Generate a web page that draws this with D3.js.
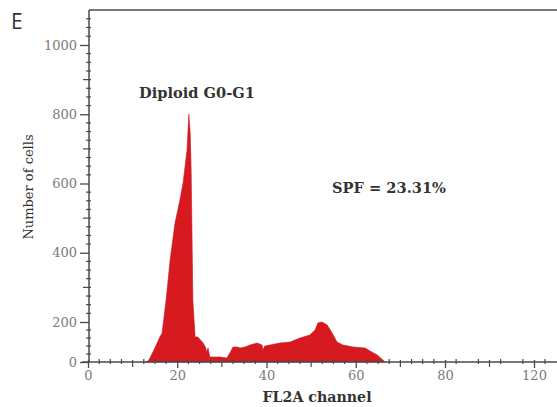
<!DOCTYPE html>
<html>
<head>
<meta charset="utf-8">
<script src="https://cdn.jsdelivr.net/npm/d3@7"></script>
<style>
  html, body { margin: 0; padding: 0; background: #fff; }
  svg { display: block; }
</style>
</head>
<body>
<svg id="chart" width="557" height="407"></svg>
<script>
// ---- data ----
const channel = [12.8, 13.5, 14.0, 15.0, 16.0, 16.6, 17.5, 18.4, 19.5, 20.6, 21.3, 22.2, 22.6, 22.9, 23.1, 23.3, 23.5, 24.0,
  24.6, 25.8, 26.3, 26.6, 26.9, 27.3, 28.0, 29.6, 31.1, 31.8, 32.5, 33.4, 34.1, 35.2, 36.3, 37.9, 39.0, 39.2, 39.6,
  40.8, 43.0, 45.3, 47.5, 49.7, 50.9, 51.5, 52.4, 53.6, 54.7, 55.8, 57.1, 59.4, 62.1, 63.6, 64.8, 66.1, 66.6];
const cells = [0, 5, 25, 70, 120, 145, 263, 379, 486, 552, 601, 697, 800, 746, 648, 457, 263, 125,
  125, 95, 75, 50, 70, 25, 25, 25, 20, 45, 75, 75, 70, 75, 85, 95, 85, 60, 80,
  85, 95, 100, 120, 135, 160, 195, 200, 185, 145, 100, 85, 75, 70, 50, 35, 10, 0];
const xTickValues = [0, 20, 40, 60, 80, 120];
const xTickLabels = ["0", "20", "40", "60", "80", "120"];
const yTickValues = [0, 200, 400, 600, 800, 1000];
const yTickLabels = ["0", "200", "400", "600", "800", "1000"];
const panelLabel = "E";
const peakLabel = "Diploid G0-G1";
const spfLabel = "SPF = 23.31%";
const xTitle = "FL2A channel";
const yTitle = "Number of cells";

// ---- layout ----
const svg = d3.select("#chart");
const axisColor = "#4a4a4a";
const tickColor = "#7a7a7a";
const red = "#d71920";
const serif = "'DejaVu Serif', 'Liberation Serif', serif";

// piecewise scales reproduce the reference axis spacing
const x = d3.scaleLinear().domain([0, 80, 120, 130]).range([88, 445, 534, 556]);
const y = d3.scaleLinear().domain([0, 200, 1000, 1100]).range([362, 322, 45, 10]);

// ---- area ----
const data = channel.map((c, i) => ({ c, n: cells[i] }));
const area = d3.area().x(d => x(d.c)).y0(y(0)).y1(d => y(d.n)).curve(d3.curveLinear);
svg.append("path").datum(data).attr("d", area).attr("fill", red).attr("stroke", "#c8141b").attr("stroke-width", 0.6);

// ---- frame lines ----
svg.append("line").attr("x1", 89).attr("x2", 557).attr("y1", 10).attr("y2", 10)
  .attr("stroke", axisColor).attr("stroke-width", 1.5);

// ---- y axis ----
const yMinor = d3.range(225, 1100, 25).filter(v => v % 100 !== 0).concat([40, 80, 120, 160]);
const yMedium = d3.range(300, 1100, 200);
const gy = svg.append("g").attr("transform", "translate(89,0)");
gy.append("line").attr("x1", 0).attr("x2", 0).attr("y1", 10).attr("y2", 363)
  .attr("stroke", axisColor).attr("stroke-width", 1.5);
gy.selectAll("line.minor").data(yMinor).join("line").attr("class", "minor")
  .attr("x1", -3).attr("x2", 2).attr("y1", d => y(d)).attr("y2", d => y(d))
  .attr("stroke", axisColor).attr("stroke-width", 1.2);
gy.selectAll("line.medium").data(yMedium).join("line").attr("class", "medium")
  .attr("x1", -6).attr("x2", 2).attr("y1", d => y(d)).attr("y2", d => y(d))
  .attr("stroke", axisColor).attr("stroke-width", 1.2);
const yAxis = d3.axisLeft(y).tickValues(yTickValues).tickFormat((d, i) => yTickLabels[i])
  .tickSizeInner(9).tickSizeOuter(0).tickPadding(3);
const gya = gy.append("g").call(yAxis);
gya.select(".domain").remove();
gya.selectAll(".tick line").attr("stroke", axisColor).attr("stroke-width", 1.3);
gya.selectAll(".tick text").attr("fill", tickColor).style("font-family", serif).style("font-size", "13px");

// ---- x axis ----
const xMinor = d3.range(2.5, 80, 2.5).filter(v => v % 10 !== 0).concat([85, 95, 105, 115, 125]);
const xMedium = [10, 30, 50, 70, 100];
const gx = svg.append("g").attr("transform", "translate(0,362)");
gx.append("line").attr("x1", 82).attr("x2", 557).attr("y1", 0).attr("y2", 0)
  .attr("stroke", axisColor).attr("stroke-width", 1.5);
gx.selectAll("line.minor").data(xMinor).join("line").attr("class", "minor")
  .attr("x1", d => x(d)).attr("x2", d => x(d)).attr("y1", -3).attr("y2", 2)
  .attr("stroke", axisColor).attr("stroke-width", 1.2);
gx.selectAll("line.medium").data(xMedium).join("line").attr("class", "medium")
  .attr("x1", d => x(d)).attr("x2", d => x(d)).attr("y1", -2).attr("y2", 5)
  .attr("stroke", axisColor).attr("stroke-width", 1.2);
const xAxis = d3.axisBottom(x).tickValues(xTickValues).tickFormat((d, i) => xTickLabels[i])
  .tickSizeInner(6).tickSizeOuter(0).tickPadding(3);
const gxa = gx.append("g").call(xAxis);
gxa.select(".domain").remove();
gxa.selectAll(".tick line").attr("stroke", axisColor).attr("stroke-width", 1.3).attr("y1", -2);
gxa.selectAll(".tick text").attr("fill", tickColor).style("font-family", serif).style("font-size", "13px");

// ---- texts ----
svg.append("text").attr("x", 11).attr("y", 29).text(panelLabel)
  .style("font-family", "'Open Sans', 'DejaVu Sans', sans-serif").style("font-size", "21px").attr("fill", "#333");
svg.append("text").attr("x", 197).attr("y", 98).attr("text-anchor", "middle").text(peakLabel)
  .style("font-family", serif).style("font-size", "14.6px").style("font-weight", "bold").attr("fill", "#333");
svg.append("text").attr("x", 389).attr("y", 193).attr("text-anchor", "middle").text(spfLabel)
  .style("font-family", serif).style("font-size", "14.6px").style("font-weight", "bold").attr("fill", "#333");
svg.append("text").attr("x", 317).attr("y", 402).attr("text-anchor", "middle").text(xTitle)
  .style("font-family", serif).style("font-size", "14.2px").style("font-weight", "bold").attr("fill", "#333");
svg.append("text").attr("transform", "translate(33,187) rotate(-90)").attr("text-anchor", "middle").text(yTitle)
  .style("font-family", serif).style("font-size", "13px").attr("fill", "#333");
</script>
</body>
</html>
